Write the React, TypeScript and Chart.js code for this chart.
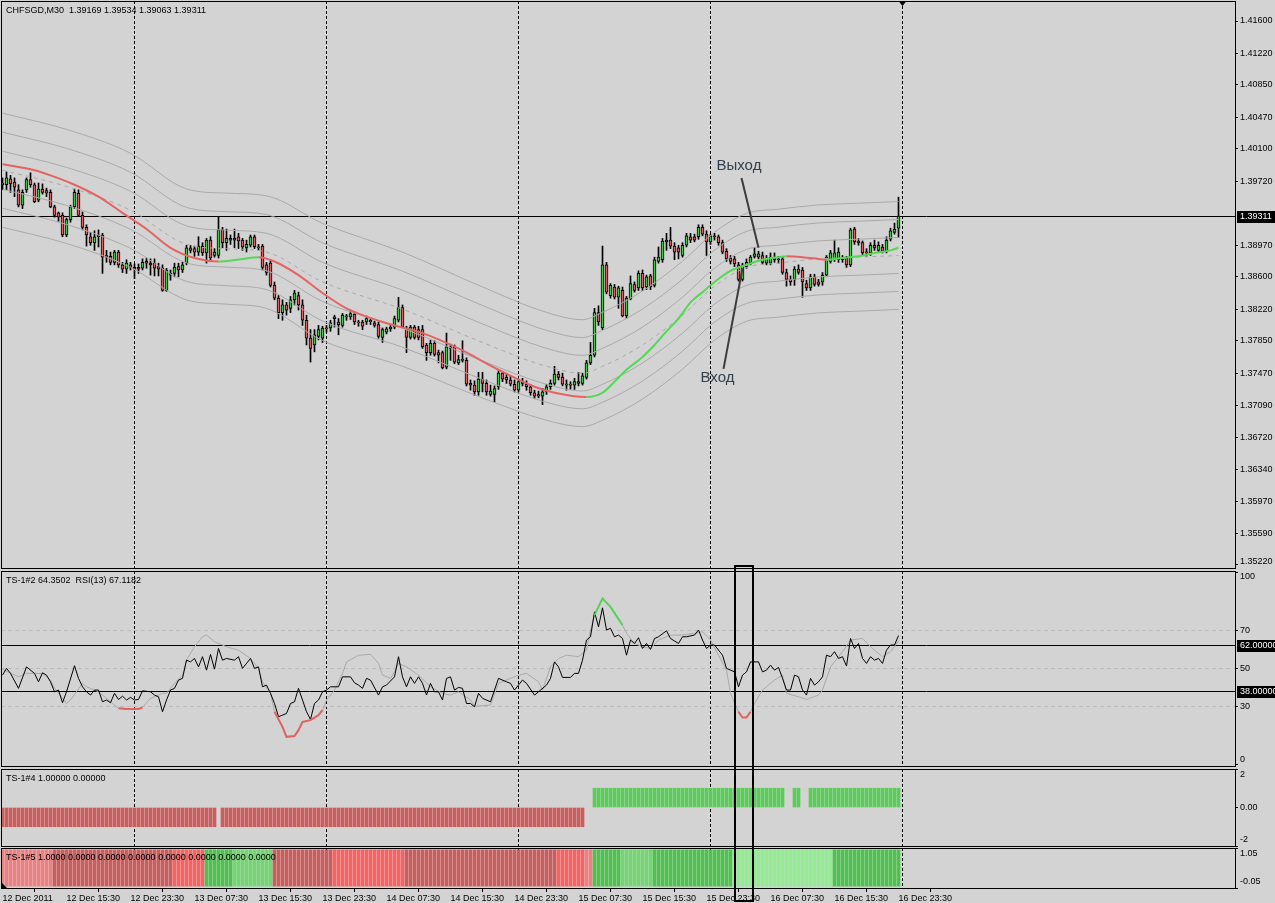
import React, { useEffect, useRef } from "react";
import { Chart, registerables } from "chart.js";

Chart.register(...registerables);

// ================= DATA =================
const symbolName = "CHFSGD,M30";

const barOpen = [
  1.3968, 1.3968, 1.3975, 1.3971, 1.3962, 1.3944, 1.3962, 1.3974, 1.3968, 1.3950,
  1.3963, 1.3961, 1.3959, 1.3942, 1.3935, 1.3932, 1.3909, 1.3927, 1.3942, 1.3958,
  1.3932, 1.3918, 1.3907, 1.3900, 1.3909, 1.3909, 1.3885, 1.3884, 1.3877, 1.3889,
  1.3874, 1.3869, 1.3874, 1.3871, 1.3871, 1.3870, 1.3878, 1.3876, 1.3876, 1.3872,
  1.3870, 1.3844, 1.3862, 1.3864, 1.3872, 1.3868, 1.3876, 1.3894, 1.3893, 1.3889,
  1.3896, 1.3888, 1.3903, 1.3885, 1.3885, 1.3915, 1.3900, 1.3905, 1.3905, 1.3907,
  1.3903, 1.3894, 1.3897, 1.3907, 1.3895, 1.3896, 1.3874, 1.3876, 1.3850, 1.3835,
  1.3818, 1.3827, 1.3823, 1.3833, 1.3838, 1.3827, 1.3809, 1.3788, 1.3780, 1.3790,
  1.3788, 1.3800, 1.3800, 1.3811, 1.3807, 1.3803, 1.3813, 1.3813, 1.3816, 1.3807,
  1.3807, 1.3807, 1.3809, 1.3806, 1.3804, 1.3789, 1.3795, 1.3799, 1.3801, 1.3809,
  1.3824, 1.3800, 1.3789, 1.3801, 1.3798, 1.3798, 1.3780, 1.3771, 1.3782, 1.3771,
  1.3771, 1.3754, 1.3778, 1.3778, 1.3759, 1.3763, 1.3762, 1.3735, 1.3733, 1.3725,
  1.3740, 1.3735, 1.3722, 1.3722, 1.3731, 1.3747, 1.3742, 1.3739, 1.3734, 1.3727,
  1.3735, 1.3734, 1.3731, 1.3724, 1.3722, 1.3720, 1.3725, 1.3731, 1.3735, 1.3746,
  1.3742, 1.3733, 1.3734, 1.3733, 1.3735, 1.3735, 1.3742, 1.3759, 1.3768, 1.3818,
  1.3800, 1.3874, 1.3838, 1.3848, 1.3836, 1.3844, 1.3814, 1.3834, 1.3851, 1.3847,
  1.3864, 1.3848, 1.3861, 1.3850, 1.3878, 1.3880, 1.3901, 1.3903, 1.3896, 1.3894,
  1.3885, 1.3897, 1.3907, 1.3907, 1.3907, 1.3918, 1.3910, 1.3901, 1.3908, 1.3907,
  1.3900, 1.3890, 1.3882, 1.3881, 1.3874, 1.3857, 1.3872, 1.3876, 1.3884, 1.3883,
  1.3885, 1.3876, 1.3876, 1.3880, 1.3881, 1.3881, 1.3865, 1.3857, 1.3857, 1.3869,
  1.3868, 1.3852, 1.3847, 1.3860, 1.3854, 1.3854, 1.3862, 1.3878, 1.3881, 1.3880,
  1.3882, 1.3882, 1.3874, 1.3916, 1.3900, 1.3900, 1.3889, 1.3888, 1.3897, 1.3891,
  1.3895, 1.3890, 1.3904, 1.3912, 1.39169,
];

const barHigh = [
  1.3976, 1.3983, 1.3979, 1.3976, 1.3968, 1.3962, 1.3976, 1.3982, 1.3970, 1.3970,
  1.3969, 1.3964, 1.3962, 1.3944, 1.3936, 1.3935, 1.3929, 1.3944, 1.3963, 1.3962,
  1.3936, 1.3921, 1.3912, 1.3914, 1.3915, 1.3911, 1.3891, 1.3889, 1.3891, 1.3891,
  1.3877, 1.3880, 1.3877, 1.3875, 1.3875, 1.3881, 1.3882, 1.3881, 1.3881, 1.3876,
  1.3874, 1.3870, 1.3868, 1.3876, 1.3876, 1.3877, 1.3897, 1.3897, 1.3896, 1.3907,
  1.3900, 1.3905, 1.3907, 1.3893, 1.3930, 1.3918, 1.3916, 1.3909, 1.3916, 1.3911,
  1.3905, 1.3903, 1.3909, 1.3909, 1.3898, 1.3898, 1.3877, 1.3880, 1.3854, 1.3838,
  1.3833, 1.3830, 1.3837, 1.3844, 1.3842, 1.3833, 1.3815, 1.3798, 1.3798, 1.3803,
  1.3802, 1.3803, 1.3809, 1.3815, 1.3811, 1.3817, 1.3816, 1.3820, 1.3818, 1.3809,
  1.3809, 1.3814, 1.3811, 1.3808, 1.3807, 1.3800, 1.3801, 1.3803, 1.3814, 1.3836,
  1.3827, 1.3802, 1.3803, 1.3803, 1.3802, 1.3803, 1.3782, 1.3786, 1.3785, 1.3774,
  1.3773, 1.3794, 1.3781, 1.3780, 1.3768, 1.3785, 1.3765, 1.3739, 1.3738, 1.3748,
  1.3748, 1.3739, 1.3733, 1.3732, 1.3751, 1.3749, 1.3746, 1.3744, 1.3739, 1.3740,
  1.3741, 1.3738, 1.3734, 1.3727, 1.3726, 1.3729, 1.3734, 1.3739, 1.3755, 1.3749,
  1.3747, 1.3739, 1.3737, 1.3741, 1.3748, 1.3747, 1.3762, 1.3783, 1.3823, 1.3826,
  1.3896, 1.3877, 1.3852, 1.3851, 1.3849, 1.3848, 1.3837, 1.3861, 1.3854, 1.3867,
  1.3868, 1.3862, 1.3863, 1.3883, 1.3895, 1.3905, 1.3911, 1.3918, 1.3900, 1.3897,
  1.3900, 1.3911, 1.3911, 1.3910, 1.3921, 1.3921, 1.3914, 1.3910, 1.3911, 1.3909,
  1.3903, 1.3893, 1.3885, 1.3884, 1.3877, 1.3876, 1.3881, 1.3885, 1.3894, 1.3890,
  1.3889, 1.3885, 1.3888, 1.3888, 1.3884, 1.3883, 1.3869, 1.3861, 1.3872, 1.3874,
  1.3871, 1.3856, 1.3863, 1.3863, 1.3857, 1.3865, 1.3885, 1.3891, 1.3903, 1.3894,
  1.3885, 1.3884, 1.3917, 1.3918, 1.3905, 1.3902, 1.3893, 1.3900, 1.3903, 1.3901,
  1.3898, 1.3907, 1.3917, 1.3923, 1.39534,
];

const barLow = [
  1.3962, 1.3962, 1.3959, 1.3954, 1.3942, 1.3940, 1.3959, 1.3965, 1.3947, 1.3948,
  1.3957, 1.3954, 1.3941, 1.3930, 1.3925, 1.3907, 1.3907, 1.3924, 1.3940, 1.3931,
  1.3915, 1.3896, 1.3897, 1.3891, 1.3895, 1.3864, 1.3877, 1.3874, 1.3874, 1.3871,
  1.3865, 1.3864, 1.3868, 1.3858, 1.3864, 1.3868, 1.3870, 1.3862, 1.3861, 1.3861,
  1.3843, 1.3843, 1.3856, 1.3860, 1.3860, 1.3865, 1.3874, 1.3888, 1.3884, 1.3885,
  1.3885, 1.3876, 1.3880, 1.3883, 1.3882, 1.3894, 1.3891, 1.3898, 1.3894, 1.3893,
  1.3891, 1.3889, 1.3895, 1.3893, 1.3891, 1.3868, 1.3862, 1.3848, 1.3833, 1.3811,
  1.3809, 1.3815, 1.3818, 1.3827, 1.3821, 1.3803, 1.3780, 1.3760, 1.3772, 1.3786,
  1.3783, 1.3795, 1.3796, 1.3801, 1.3792, 1.3801, 1.3809, 1.3810, 1.3804, 1.3802,
  1.3798, 1.3804, 1.3804, 1.3801, 1.3788, 1.3783, 1.3793, 1.3796, 1.3799, 1.3807,
  1.3800, 1.3771, 1.3787, 1.3787, 1.3786, 1.3776, 1.3762, 1.3768, 1.3767, 1.3759,
  1.3752, 1.3752, 1.3762, 1.3758, 1.3757, 1.3760, 1.3732, 1.3727, 1.3721, 1.3721,
  1.3725, 1.3721, 1.3720, 1.3713, 1.3728, 1.3737, 1.3735, 1.3732, 1.3725, 1.3725,
  1.3732, 1.3727, 1.3721, 1.3717, 1.3718, 1.3710, 1.3722, 1.3728, 1.3733, 1.3739,
  1.3732, 1.3727, 1.3728, 1.3728, 1.3732, 1.3733, 1.3740, 1.3757, 1.3766, 1.3803,
  1.3798, 1.3840, 1.3835, 1.3834, 1.3823, 1.3813, 1.3811, 1.3833, 1.3842, 1.3844,
  1.3844, 1.3845, 1.3845, 1.3848, 1.3876, 1.3877, 1.3891, 1.3893, 1.3880, 1.3881,
  1.3883, 1.3895, 1.3900, 1.3901, 1.3904, 1.3908, 1.3885, 1.3898, 1.3903, 1.3897,
  1.3887, 1.3878, 1.3875, 1.3872, 1.3855, 1.3855, 1.3870, 1.3874, 1.3882, 1.3881,
  1.3875, 1.3874, 1.3874, 1.3877, 1.3876, 1.3863, 1.3849, 1.3850, 1.3850, 1.3863,
  1.3836, 1.3844, 1.3844, 1.3849, 1.3849, 1.3850, 1.3860, 1.3876, 1.3878, 1.3877,
  1.3877, 1.3871, 1.3872, 1.3898, 1.3897, 1.3885, 1.3884, 1.3885, 1.3891, 1.3889,
  1.3888, 1.3888, 1.3902, 1.3910, 1.39063,
];

const barClose = [
  1.3970, 1.3976, 1.3969, 1.3965, 1.3944, 1.3959, 1.3974, 1.3968, 1.3948, 1.3963,
  1.3959, 1.3958, 1.3942, 1.3932, 1.3930, 1.3909, 1.3927, 1.3942, 1.3959, 1.3932,
  1.3918, 1.3909, 1.3900, 1.3907, 1.3907, 1.3883, 1.3883, 1.3877, 1.3889, 1.3874,
  1.3869, 1.3876, 1.3871, 1.3869, 1.3869, 1.3877, 1.3876, 1.3874, 1.3870, 1.3869,
  1.3844, 1.3868, 1.3864, 1.3871, 1.3868, 1.3874, 1.3894, 1.3891, 1.3889, 1.3896,
  1.3888, 1.3903, 1.3882, 1.3889, 1.3915, 1.3900, 1.3905, 1.3903, 1.3903, 1.3902,
  1.3895, 1.3898, 1.3907, 1.3895, 1.3894, 1.3871, 1.3865, 1.3850, 1.3835, 1.3818,
  1.3827, 1.3821, 1.3833, 1.3841, 1.3827, 1.3809, 1.3788, 1.3776, 1.3792, 1.3798,
  1.3800, 1.3799, 1.3806, 1.3813, 1.3804, 1.3815, 1.3814, 1.3817, 1.3807, 1.3806,
  1.3802, 1.3811, 1.3807, 1.3803, 1.3790, 1.3798, 1.3799, 1.3801, 1.3811, 1.3824,
  1.3801, 1.3789, 1.3801, 1.3789, 1.3789, 1.3778, 1.3771, 1.3782, 1.3769, 1.3768,
  1.3753, 1.3778, 1.3776, 1.3760, 1.3763, 1.3762, 1.3734, 1.3733, 1.3725, 1.3740,
  1.3735, 1.3725, 1.3726, 1.3729, 1.3747, 1.3740, 1.3739, 1.3734, 1.3727, 1.3737,
  1.3737, 1.3731, 1.3724, 1.3720, 1.3720, 1.3725, 1.3731, 1.3735, 1.3746, 1.3742,
  1.3734, 1.3734, 1.3733, 1.3737, 1.3737, 1.3744, 1.3759, 1.3768, 1.3818, 1.3807,
  1.3874, 1.3842, 1.3850, 1.3836, 1.3847, 1.3814, 1.3835, 1.3852, 1.3844, 1.3864,
  1.3847, 1.3860, 1.3848, 1.3880, 1.3883, 1.3902, 1.3903, 1.3896, 1.3889, 1.3889,
  1.3897, 1.3908, 1.3903, 1.3903, 1.3918, 1.3910, 1.3901, 1.3908, 1.3907, 1.3900,
  1.3889, 1.3881, 1.3878, 1.3875, 1.3857, 1.3874, 1.3877, 1.3883, 1.3887, 1.3887,
  1.3877, 1.3882, 1.3883, 1.3883, 1.3880, 1.3865, 1.3857, 1.3854, 1.3869, 1.3865,
  1.3854, 1.3847, 1.3860, 1.3851, 1.3851, 1.3862, 1.3883, 1.3888, 1.3888, 1.3889,
  1.3880, 1.3874, 1.3915, 1.3901, 1.3902, 1.3888, 1.3888, 1.3897, 1.3894, 1.3897,
  1.3890, 1.3903, 1.3914, 1.3916, 1.39311,
];

// x axis: bar index of each label, and the label text
const xLabelBars = [0, 16, 32, 48, 64, 80, 96, 112, 128, 144, 160, 176, 192, 208, 224];
const xLabels = [
  "12 Dec 2011", "12 Dec 15:30", "12 Dec 23:30", "13 Dec 07:30", "13 Dec 15:30",
  "13 Dec 23:30", "14 Dec 07:30", "14 Dec 15:30", "14 Dec 23:30", "15 Dec 07:30",
  "15 Dec 15:30", "15 Dec 23:30", "16 Dec 07:30", "16 Dec 15:30", "16 Dec 23:30",
];
// bars that open a new day (vertical separators)
const daySeparators = [33, 81, 129, 177, 225];

const priceTicks = [
  1.416, 1.4122, 1.4085, 1.4047, 1.401, 1.3972, 1.3897, 1.386, 1.3822,
  1.3785, 1.3747, 1.3709, 1.3672, 1.3634, 1.3597, 1.3559, 1.3522,
];

// envelope bands: centre line and step between band lines
const bandBars = [0, 16, 32, 46, 56, 66, 80, 100, 120, 136, 145, 150, 160, 170, 178, 186, 194, 204, 214, 224];
const bandMid = [
  1.3985, 1.3966, 1.3938, 1.3898, 1.3893, 1.3889, 1.3854, 1.3822, 1.3783, 1.3755,
  1.3747, 1.3755, 1.3780, 1.3815, 1.3849, 1.3871, 1.3876, 1.3881, 1.3883, 1.3885,
];
const bandStep = [
  0.00223, 0.00223, 0.00223, 0.00217, 0.00217, 0.0022, 0.00229, 0.00223, 0.00217, 0.00211,
  0.00209, 0.00211, 0.00211, 0.00211, 0.00211, 0.00211, 0.00211, 0.00211, 0.00211, 0.00211,
];
const bandOffsets = [-3, -2, -1, 0, 1, 2, 3];

// thick moving average [bar, price]
const maPoints: [number, number][] = [
  [0, 1.3992], [8, 1.3985], [12, 1.3979], [18, 1.3968], [24, 1.3954], [30, 1.3935],
  [36, 1.3916], [42, 1.3894], [48, 1.3882], [54, 1.3878], [60, 1.3881], [64, 1.3883],
  [68, 1.3878], [74, 1.3862], [80, 1.3841], [86, 1.3823], [95, 1.3807], [105, 1.3794],
  [114, 1.3776], [124, 1.3751], [133, 1.3731], [138, 1.3724], [146, 1.3719], [150, 1.3724],
  [153, 1.3737], [156, 1.3751], [160, 1.3766], [163, 1.378], [166, 1.3796], [169, 1.3811],
  [172, 1.383], [175, 1.3842], [178, 1.3854], [182, 1.3867], [186, 1.3874], [190, 1.388],
  [194, 1.3883], [196, 1.3884], [200, 1.3883], [204, 1.3881], [206, 1.388], [210, 1.3882],
  [214, 1.3884], [218, 1.3888], [222, 1.3891], [224, 1.3894],
];

// RSI(13) [bar, value]
const rsiPoints: [number, number][] = [
  [0, 46.5], [1, 50], [2, 47.4], [4, 39.6], [6, 50.8], [8, 47.4], [9, 43], [10, 47.7], [11, 46.5], [12, 43],
  [13, 37.8], [14, 38.7], [15, 32.1], [16, 37.8], [18, 51.4], [19, 44.8], [20, 40.4], [21, 37.8], [22, 36.1], [23, 38.7],
  [24, 38.7], [25, 32.6], [26, 33.5], [27, 32.1], [28, 37], [29, 33.8], [30, 35.5], [31, 33.5], [32, 34.9], [33, 33.5],
  [34, 33.8], [35, 38.3], [37, 37.8], [38, 36.1], [39, 35.2], [40, 27.4], [41, 33.5], [42, 38.7], [43, 39.6], [44, 43.9],
  [45, 44.8], [46, 54.3], [47, 53.4], [48, 55.2], [49, 50.8], [50, 56.1], [51, 49.1], [52, 57.3], [53, 49.6], [54, 60.4],
  [55, 54.3], [56, 55.2], [58, 54.3], [59, 56.1], [60, 50], [62, 55.2], [63, 50], [64, 50.8], [65, 40.4], [66, 41.3],
  [67, 37], [68, 31.7], [69, 24.8], [71, 26.5], [72, 31.7], [73, 32.6], [74, 39.6], [75, 33.5], [76, 27.4], [77, 23.4],
  [78, 31.7], [79, 33.5], [80, 37.8], [81, 38.7], [82, 40.4], [84, 40.4], [85, 45.6], [87, 45.6], [88, 42.5], [89, 41.3],
  [90, 39.6], [91, 44.8], [92, 43.9], [94, 36.1], [95, 40.4], [96, 41.3], [98, 45.6], [99, 56.1], [100, 45.6], [101, 40.4],
  [102, 45.6], [103, 42.2], [104, 45.6], [105, 42.2], [106, 36.1], [107, 42.2], [108, 37.8], [109, 37.8], [110, 33.5], [111, 44.8],
  [112, 45.6], [113, 38.7], [114, 40.1], [115, 39.6], [116, 31.7], [117, 31.7], [118, 30], [119, 37], [120, 34.4], [122, 32.6],
  [124, 44.8], [126, 43], [127, 42.2], [128, 38.7], [130, 43.9], [131, 42.2], [133, 36.1], [134, 37.8], [136, 41.3], [137, 44.8],
  [138, 53.4], [139, 50.8], [140, 45.3], [142, 45.3], [143, 47.4], [144, 47.4], [145, 54.3], [146, 64.8], [147, 66.5], [148, 79.5],
  [149, 71.7], [150, 81.6], [151, 70], [152, 70.9], [153, 66.5], [154, 67.4], [155, 65.6], [156, 56.9], [157, 64.8], [158, 63],
  [159, 66], [160, 60.4], [161, 63], [162, 59.9], [163, 65.6], [164, 66.5], [166, 69.6], [167, 65.6], [169, 63], [170, 66.5],
  [171, 66.5], [173, 67.4], [174, 70], [175, 64.8], [176, 60.4], [177, 62.2], [178, 62.2], [180, 56.9], [181, 50], [183, 48.2],
  [184, 40.4], [185, 46.5], [186, 48.2], [187, 53.4], [189, 53.4], [190, 48.2], [191, 49.1], [192, 51.7], [193, 49.1], [194, 50.5],
  [195, 44.8], [196, 38.7], [197, 38.7], [198, 46.5], [199, 45.6], [200, 38.7], [201, 36.1], [202, 44.8], [203, 41.3], [204, 43],
  [205, 45.6], [206, 56.9], [207, 56.1], [208, 58.7], [209, 55.2], [210, 56.1], [211, 51.2], [212, 65.6], [213, 60.4], [214, 63],
  [215, 55.2], [216, 52.6], [217, 56.1], [218, 54.3], [219, 55.2], [220, 52.6], [221, 59.5], [222, 62.2], [223, 62.2], [224, 67.1182],
];

// TS-1#2 signal line [bar, value]
const signalPoints: [number, number][] = [
  [0, 49.5], [4, 45.6], [6, 47.4], [10, 47.4], [12, 43.9], [13, 39.6], [16, 31.7], [17, 33.5], [20, 42.2], [21, 40.4],
  [24, 37.8], [27, 32.6], [29, 29.2], [31, 28.8], [34, 28.8], [35, 29.6], [37, 34.4], [40, 37], [41, 37], [43, 42.2],
  [45, 46.5], [46, 54.3], [48, 61.3], [50, 66.5], [51, 67.4], [53, 63.9], [56, 61.3], [59, 59.5], [62, 55.2], [64, 50],
  [65, 43], [67, 37], [68, 27.4], [70, 19.5], [71, 14.3], [73, 14.7], [74, 17.8], [75, 22.1], [77, 23], [79, 25.6],
  [80, 28.2], [81, 33.5], [83, 38.7], [85, 47.4], [86, 53.4], [89, 56.9], [92, 57.3], [94, 52.6], [95, 46.5], [97, 44.8],
  [98, 48.2], [99, 52.6], [101, 50.8], [104, 46.5], [107, 40.4], [110, 37], [112, 36.1], [114, 37.8], [117, 33.5], [118, 30.4],
  [119, 30.4], [122, 30.9], [124, 42.2], [129, 46.5], [131, 47.4], [134, 43], [135, 38.7], [137, 50.8], [139, 55.2], [141, 56.9],
  [144, 56.1], [146, 59.5], [147, 70], [148, 77.8], [150, 86.5], [152, 82.1], [155, 72.6], [156, 68.3], [158, 63], [160, 61.3],
  [162, 60.4], [164, 64.8], [167, 67.4], [170, 67.4], [173, 68.3], [175, 69.1], [177, 64.8], [179, 56.9], [181, 49.1], [182, 37],
  [184, 27.4], [185, 24.4], [186, 24.4], [187, 27.4], [188, 31.7], [190, 38.7], [193, 43.9], [195, 46.5], [196, 37], [199, 35.2],
  [201, 33.8], [204, 36.1], [205, 38.7], [207, 50.8], [210, 58.7], [212, 64.8], [215, 65.6], [217, 61.3], [220, 56.1], [222, 58.7],
  [224, 64.3502],
];

const rsiTicks = [100, 70, 50, 30, 0];
const rsiDashedLevels = [70, 50, 30];
const rsiSolidLevels = [62, 38];
const signalLowZone = 30;
const signalHighZone = 70;

// TS-1#4 histogram as runs [value, bar count]
const ts4Runs: [number, number][] = [[-1, 54], [0, 1], [-1, 91], [0, 2], [1, 48], [0, 2], [1, 2], [0, 2], [1, 23]];
const ts4Ticks = [2, 0, -2];

// TS-1#5 state strip as runs [state, bar count]
const ts5Runs: [string, number][] = [
  ["pink", 13], ["dark", 30], ["red", 8], ["green", 7], ["mid", 10], ["dark", 15], ["red", 18],
  ["dark", 38], ["red", 7], ["pink", 2], ["green", 7], ["mid", 8], ["green", 20], ["light", 25], ["green", 17],
];
const ts5Ticks = [1.05, -0.05];

// chart notes
const noteTexts = ["Выход", "Вход"];
const noteBars = [178.5, 174.5];
const notePrices = [1.399, 1.3742];
const pointerBars: [number, number][] = [[184.75, 189], [180.25, 185]];
const pointerPrices: [number, number][] = [[1.3976, 1.3894], [1.3752, 1.387]];
const highlightBars = [184, 187];

// ================= STYLE =================
const FONT = '"Liberation Sans", Arial, sans-serif';
const BG = "#d3d3d3";
const AXIS_W = 40;
const X_MIN = -0.375;
const X_MAX = 308.125;
const C = {
  bull: "#44c844",
  bear: "#dc6262",
  maUp: "#55d855",
  maDown: "#e46464",
  band: "#a9a9a9",
  signal: "#a9a9a9",
  zoneLow: "#e06262",
  zoneHigh: "#55d255",
  level: "#bcbcbc",
  ts4Up: "#58cd58",
  ts4Down: "#cd5c5c",
  note: "#36404c",
  pointer: "#3c3c3c",
};
const ts5Palette: Record<string, string> = {
  pink: "#f08080",
  dark: "#cd5c5c",
  red: "#fa6262",
  green: "#4cc44c",
  mid: "#6fd86f",
  light: "#90ee90",
};

function expandRuns<T>(runs: [T, number][]): T[] {
  const out: T[] = [];
  for (const [v, n] of runs) for (let k = 0; k < n; k++) out.push(v);
  return out;
}

function xScale(show: boolean) {
  const cfg: any = {
    type: "linear",
    min: X_MIN,
    max: X_MAX,
    offset: false,
    display: show,
    afterBuildTicks: (s: any) => {
      s.ticks = xLabelBars.map((v) => ({ value: v }));
    },
    grid: { display: true, drawOnChartArea: false, drawTicks: true, tickLength: 4, color: "#000", lineWidth: 1 },
    border: { display: false },
    ticks: {
      autoSkip: false,
      maxRotation: 0,
      minRotation: 0,
      align: "start",
      padding: 1,
      color: "#000",
      font: { family: FONT, size: 9 },
      callback: (v: number) => {
        const k = xLabelBars.indexOf(v);
        return k >= 0 ? xLabels[k] : "";
      },
    },
  };
  if (show) {
    cfg.afterFit = (s: any) => {
      s.height = 15;
    };
  }
  return cfg;
}

function yScale(min: number, max: number, ticks: number[]) {
  return {
    type: "linear",
    position: "right",
    min,
    max,
    afterBuildTicks: (s: any) => {
      s.ticks = ticks.map((v) => ({ value: v }));
    },
    afterFit: (s: any) => {
      s.width = AXIS_W;
    },
    grid: { display: true, drawOnChartArea: false, drawTicks: true, tickLength: 3, color: "#000" },
    border: { display: false },
    ticks: { display: false },
  };
}

type PanelOpts = {
  header: string;
  ticks: number[];
  fmt: (v: number) => string;
  dashed?: number[];
  solid?: number[];
  boxes?: { value: number; text: string }[];
  extra?: (chart: any) => void;
};

function panelPlugin(o: PanelOpts) {
  return {
    id: "panelDecor",
    beforeDatasetsDraw(chart: any) {
      const { ctx, chartArea: a, scales } = chart;
      const xs = scales.x;
      const ys = scales.y;
      ctx.save();
      ctx.beginPath();
      ctx.rect(a.left, a.top, a.right - a.left, a.bottom - a.top);
      ctx.clip();
      ctx.lineWidth = 1;
      ctx.strokeStyle = "#000";
      ctx.setLineDash([3, 2]);
      for (const d of daySeparators) {
        const px = Math.floor(xs.getPixelForValue(d)) + 0.5;
        ctx.beginPath();
        ctx.moveTo(px, a.top);
        ctx.lineTo(px, a.bottom);
        ctx.stroke();
      }
      ctx.strokeStyle = C.level;
      ctx.setLineDash([4, 3]);
      for (const lv of o.dashed || []) {
        const py = Math.floor(ys.getPixelForValue(lv)) + 0.5;
        ctx.beginPath();
        ctx.moveTo(a.left, py);
        ctx.lineTo(a.right, py);
        ctx.stroke();
      }
      ctx.strokeStyle = "#000";
      ctx.setLineDash([]);
      for (const lv of o.solid || []) {
        const py = Math.floor(ys.getPixelForValue(lv)) + 0.5;
        ctx.beginPath();
        ctx.moveTo(a.left, py);
        ctx.lineTo(a.right, py);
        ctx.stroke();
      }
      ctx.restore();
    },
    afterDatasetsDraw(chart: any) {
      const { ctx, chartArea: a } = chart;
      if (o.extra) o.extra(chart);
      ctx.save();
      ctx.fillStyle = "#000";
      ctx.font = `9px ${FONT}`;
      ctx.textAlign = "left";
      ctx.textBaseline = "middle";
      ctx.fillText(o.header, a.left + 5, a.top + 9.5);
      ctx.restore();
    },
    afterDraw(chart: any) {
      const { ctx, chartArea: a, scales } = chart;
      const ys = scales.y;
      ctx.save();
      ctx.strokeStyle = "#000";
      ctx.lineWidth = 1;
      ctx.setLineDash([]);
      ctx.strokeRect(a.left + 0.5, a.top + 0.5, a.right - a.left, a.bottom - a.top);
      ctx.font = `9px ${FONT}`;
      ctx.textAlign = "left";
      ctx.textBaseline = "middle";
      ctx.fillStyle = "#000";
      for (const v of o.ticks) {
        let py = ys.getPixelForValue(v);
        py = Math.min(Math.max(py, a.top + 6), a.bottom - 6);
        ctx.fillText(o.fmt(v), a.right + 5, py);
      }
      for (const b of o.boxes || []) {
        const py = Math.floor(ys.getPixelForValue(b.value)) + 0.5;
        ctx.fillStyle = "#000";
        ctx.fillRect(a.right + 2, Math.round(py - 6), AXIS_W, 12);
        ctx.fillStyle = "#fff";
        ctx.fillText(b.text, a.right + 5, py);
      }
      ctx.restore();
    },
  };
}

function baseOptions(padding: any, yCfg: any, showX: boolean) {
  return {
    responsive: false,
    animation: false,
    devicePixelRatio: 1,
    events: [],
    layout: { padding },
    plugins: { legend: { display: false }, tooltip: { enabled: false } },
    scales: { x: xScale(showX), y: yCfg },
  };
}

export default function App() {
  const mainRef = useRef<HTMLCanvasElement>(null);
  const rsiRef = useRef<HTMLCanvasElement>(null);
  const ts4Ref = useRef<HTMLCanvasElement>(null);
  const ts5Ref = useRef<HTMLCanvasElement>(null);
  const overRef = useRef<HTMLCanvasElement>(null);

  useEffect(() => {
    document.body.style.margin = "0";
    Chart.defaults.font.family = FONT;
    Chart.defaults.font.size = 9;
    const N = barClose.length;
    const last = N - 1;

    // ---------- main price panel ----------
    const lineBase = { type: "line", pointRadius: 0, fill: false, tension: 0 };
    const bandSets = bandOffsets.map((k) => ({
      ...lineBase,
      data: bandBars.map((b, j) => ({ x: b, y: bandMid[j] + k * bandStep[j] })),
      borderColor: C.band,
      borderWidth: 1,
      borderDash: k === 0 ? [4, 4] : [],
      cubicInterpolationMode: "monotone",
    }));
    const maSet = {
      ...lineBase,
      data: maPoints.map(([b, v]) => ({ x: b, y: v })),
      borderWidth: 2,
      borderColor: C.maDown,
      cubicInterpolationMode: "monotone",
      segment: {
        borderColor: (c: any) => (c.p1.parsed.y >= c.p0.parsed.y ? C.maUp : C.maDown),
      },
    };
    const bodySet = {
      type: "bar",
      data: barOpen.map((o, i) => ({ x: i, y: [Math.min(o, barClose[i]), Math.max(o, barClose[i])] })),
      backgroundColor: (c: any) => (barClose[c.dataIndex] >= barOpen[c.dataIndex] ? C.bull : C.bear),
      borderColor: "#000",
      borderWidth: 1,
      borderSkipped: false,
      barThickness: 3,
      minBarLength: 1,
      grouped: false,
    };
    const wickSet = {
      type: "bar",
      data: barHigh.map((h, i) => ({ x: i, y: [barLow[i], h] })),
      backgroundColor: "#000",
      borderWidth: 0,
      barThickness: 1,
      grouped: false,
    };
    const priceFmt = (v: number) => v.toFixed(5);
    const mainHeader = `${symbolName}  ${barOpen[last].toFixed(5)} ${barHigh[last].toFixed(5)} ${barLow[last].toFixed(5)} ${barClose[last].toFixed(5)}`;

    const drawNotes = (chart: any) => {
      const { ctx, chartArea: a, scales } = chart;
      const xs = scales.x;
      const ys = scales.y;
      ctx.save();
      ctx.strokeStyle = C.pointer;
      ctx.lineWidth = 2;
      pointerBars.forEach((b, k) => {
        ctx.beginPath();
        ctx.moveTo(xs.getPixelForValue(b[0]), ys.getPixelForValue(pointerPrices[k][0]));
        ctx.lineTo(xs.getPixelForValue(b[1]), ys.getPixelForValue(pointerPrices[k][1]));
        ctx.stroke();
      });
      ctx.fillStyle = C.note;
      ctx.font = `15px ${FONT}`;
      ctx.textAlign = "left";
      ctx.textBaseline = "middle";
      noteTexts.forEach((t, k) => ctx.fillText(t, xs.getPixelForValue(noteBars[k]), ys.getPixelForValue(notePrices[k])));
      // chart shift marker
      const sx = Math.floor(xs.getPixelForValue(N)) + 0.5;
      ctx.fillStyle = "#000";
      ctx.beginPath();
      ctx.moveTo(sx - 4, a.top);
      ctx.lineTo(sx + 4, a.top);
      ctx.lineTo(sx, a.top + 5);
      ctx.closePath();
      ctx.fill();
      ctx.restore();
    };

    const mainChart = new Chart(mainRef.current as any, {
      type: "bar",
      data: { datasets: [maSet, ...bandSets, bodySet, wickSet] as any },
      options: baseOptions({ left: 1, right: 0, top: 1, bottom: 2 }, yScale(1.351848, 1.418346, priceTicks), false) as any,
      plugins: [
        panelPlugin({
          header: mainHeader,
          ticks: priceTicks,
          fmt: priceFmt,
          solid: [barClose[last]],
          boxes: [{ value: barClose[last], text: priceFmt(barClose[last]) }],
          extra: drawNotes,
        }),
      ],
    });

    // ---------- RSI panel ----------
    const rsiLast = rsiPoints[rsiPoints.length - 1][1];
    const sigLast = signalPoints[signalPoints.length - 1][1];
    const rsiChart = new Chart(rsiRef.current as any, {
      type: "line",
      data: {
        datasets: [
          {
            data: signalPoints.map(([b, v]) => ({ x: b, y: v > signalHighZone ? v : null })),
            borderColor: C.zoneHigh,
            borderWidth: 2,
            pointRadius: 0,
            spanGaps: false,
          },
          {
            data: signalPoints.map(([b, v]) => ({ x: b, y: v < signalLowZone ? v : null })),
            borderColor: C.zoneLow,
            borderWidth: 2,
            pointRadius: 0,
            spanGaps: false,
          },
          {
            data: rsiPoints.map(([b, v]) => ({ x: b, y: v })),
            borderColor: "#000",
            borderWidth: 1,
            pointRadius: 0,
          },
          {
            data: signalPoints.map(([b, v]) => ({ x: b, y: v })),
            borderColor: C.signal,
            borderWidth: 1,
            pointRadius: 0,
          },
        ] as any,
      },
      options: baseOptions({ left: 1, right: 0, top: 2, bottom: 2 }, yScale(-0.9, 100.8, rsiTicks), false) as any,
      plugins: [
        panelPlugin({
          header: `TS-1#2 ${sigLast.toFixed(4)}  RSI(13) ${rsiLast.toFixed(4)}`,
          ticks: rsiTicks,
          fmt: (v) => String(v),
          dashed: rsiDashedLevels,
          solid: rsiSolidLevels,
          boxes: rsiSolidLevels.map((v) => ({ value: v, text: v.toFixed(5) })),
        }),
      ],
    });

    // ---------- TS-1#4 panel ----------
    const ts4Values = expandRuns(ts4Runs);
    const ts4Chart = new Chart(ts4Ref.current as any, {
      type: "bar",
      data: {
        datasets: [
          {
            data: ts4Values.map((v, i) => ({ x: i, y: v === 0 ? null : v })),
            backgroundColor: (c: any) => ((c.raw && c.raw.y > 0) ? C.ts4Up : C.ts4Down),
            borderWidth: 0,
            barThickness: 3,
            grouped: false,
          },
        ] as any,
      },
      options: baseOptions({ left: 1, right: 0, top: 1, bottom: 2 }, yScale(-2, 2, ts4Ticks), false) as any,
      plugins: [
        panelPlugin({
          header: `TS-1#4 ${ts4Values[last].toFixed(5)} ${(0).toFixed(5)}`,
          ticks: ts4Ticks,
          fmt: (v) => (v === 0 ? "0.00" : String(v)),
        }),
      ],
    });

    // ---------- TS-1#5 panel ----------
    const ts5States = expandRuns(ts5Runs);
    const ts5Chart = new Chart(ts5Ref.current as any, {
      type: "bar",
      data: {
        datasets: [
          {
            data: ts5States.map((_s, i) => ({ x: i, y: 1 })),
            backgroundColor: ts5States.map((s) => ts5Palette[s]),
            borderWidth: 0,
            barThickness: 3,
            grouped: false,
          },
        ] as any,
      },
      options: baseOptions({ left: 1, right: 0, top: 1, bottom: 0 }, yScale(-0.05, 1.05, ts5Ticks), true) as any,
      plugins: [
        panelPlugin({
          header: "TS-1#5 1.0000 0.0000 0.0000 0.0000 0.0000 0.0000 0.0000 0.0000",
          ticks: ts5Ticks,
          fmt: (v) => v.toFixed(2),
          extra: (chart: any) => {
            const { ctx, chartArea: a } = chart;
            ctx.save();
            ctx.fillStyle = "#000";
            ctx.beginPath();
            ctx.moveTo(a.left, a.bottom - 6);
            ctx.lineTo(a.left, a.bottom);
            ctx.lineTo(a.left + 6, a.bottom);
            ctx.closePath();
            ctx.fill();
            ctx.restore();
          },
        }),
      ],
    });

    // ---------- highlight box across the lower panels ----------
    const over = overRef.current as HTMLCanvasElement;
    const octx = over.getContext("2d") as CanvasRenderingContext2D;
    octx.clearRect(0, 0, over.width, over.height);
    const xs: any = ts5Chart.scales.x;
    const bx0 = Math.round(xs.getPixelForValue(highlightBars[0] - 0.75));
    const bx1 = Math.round(xs.getPixelForValue(highlightBars[1] + 0.75));
    const by0 = mainChart.chartArea.bottom - 2;
    const by1 = over.height - 2;
    octx.strokeStyle = "#000";
    octx.lineWidth = 2;
    octx.strokeRect(bx0 - 1, by0, bx1 - bx0, by1 - by0);

    return () => {
      mainChart.destroy();
      rsiChart.destroy();
      ts4Chart.destroy();
      ts5Chart.destroy();
    };
  }, []);

  const abs = (top: number, h: number): React.CSSProperties => ({
    position: "absolute",
    left: 0,
    top,
    width: 1275,
    height: h,
    display: "block",
  });

  return (
    <div style={{ position: "fixed", left: 0, top: 0, width: 1275, height: 903, background: BG, overflow: "hidden" }}>
      <canvas ref={mainRef} width={1275} height={570} style={abs(0, 570)} />
      <canvas ref={rsiRef} width={1275} height={199} style={abs(569, 199)} />
      <canvas ref={ts4Ref} width={1275} height={80} style={abs(768, 80)} />
      <canvas ref={ts5Ref} width={1275} height={56} style={abs(847, 56)} />
      <canvas ref={overRef} width={1275} height={903} style={{ ...abs(0, 903), pointerEvents: "none" }} />
    </div>
  );
}
